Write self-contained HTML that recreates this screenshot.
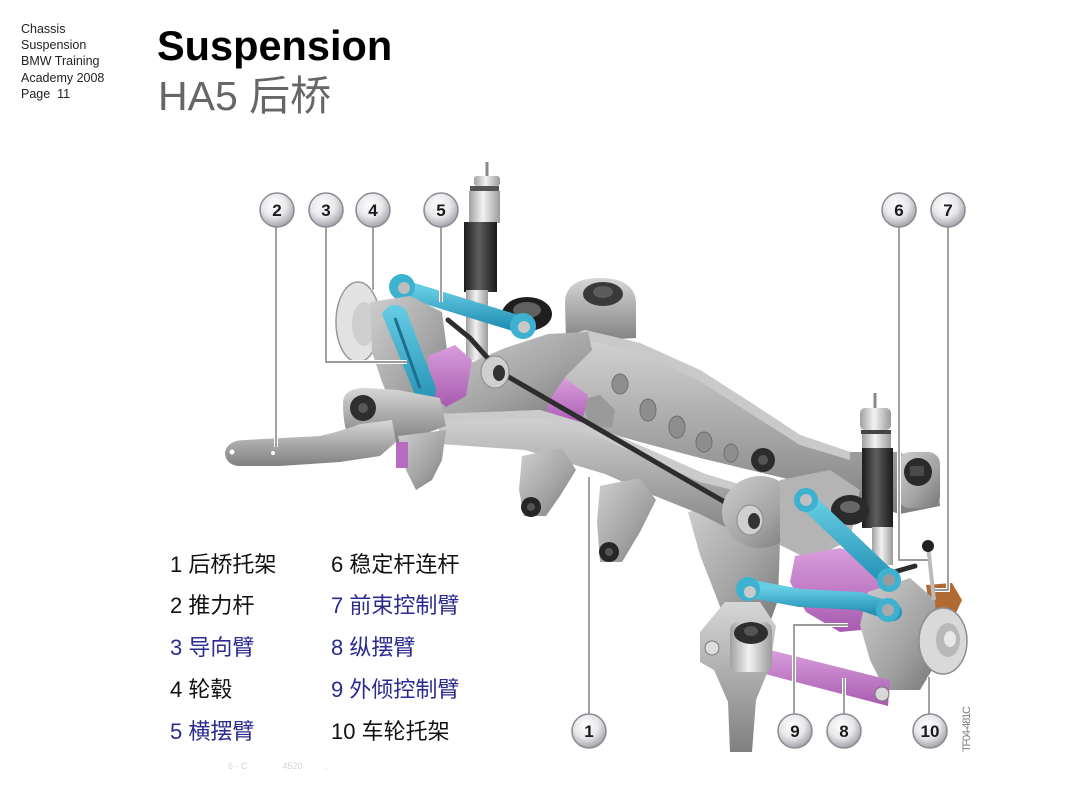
<!DOCTYPE html>
<html><head><meta charset="utf-8"><style>
html,body{margin:0;padding:0;background:#fff;}
svg{display:block;}
</style></head><body>
<svg width="1080" height="810" viewBox="0 0 1080 810" xmlns="http://www.w3.org/2000/svg">
<defs>
<linearGradient id="gA" x1="0" y1="0" x2="0" y2="1"><stop offset="0" stop-color="#d6d6d6"/><stop offset="0.5" stop-color="#ababab"/><stop offset="1" stop-color="#808080"/></linearGradient>
<linearGradient id="gB" x1="0" y1="0" x2="1" y2="1"><stop offset="0" stop-color="#cfcfcf"/><stop offset="0.6" stop-color="#a2a2a2"/><stop offset="1" stop-color="#767676"/></linearGradient>
<linearGradient id="gBlk" x1="0" y1="0" x2="1" y2="0"><stop offset="0" stop-color="#1c1c1c"/><stop offset="0.45" stop-color="#5e5e5e"/><stop offset="1" stop-color="#1a1a1a"/></linearGradient>
<linearGradient id="gSil" x1="0" y1="0" x2="1" y2="0"><stop offset="0" stop-color="#a0a0a0"/><stop offset="0.45" stop-color="#f2f2f2"/><stop offset="1" stop-color="#9a9a9a"/></linearGradient>
<linearGradient id="gBlue" x1="0" y1="0" x2="0" y2="1"><stop offset="0" stop-color="#66cde4"/><stop offset="1" stop-color="#2692b6"/></linearGradient>
<linearGradient id="gPink" x1="0" y1="0" x2="0" y2="1"><stop offset="0" stop-color="#d99ddc"/><stop offset="1" stop-color="#a85bb0"/></linearGradient>
<radialGradient id="gBub" cx="0.42" cy="0.35" r="0.65"><stop offset="0" stop-color="#ffffff"/><stop offset="0.55" stop-color="#e8e8ec"/><stop offset="1" stop-color="#a4a4aa"/></radialGradient>
</defs>

<!-- header -->
<g font-family="Liberation Sans, sans-serif" font-size="12.5" fill="#222">
<text x="21" y="33">Chassis</text>
<text x="21" y="49">Suspension</text>
<text x="21" y="65">BMW Training</text>
<text x="21" y="82">Academy 2008</text>
<text x="21" y="98">Page&#160; 11</text>
</g>
<text x="157" y="60" font-family="Liberation Sans, sans-serif" font-weight="bold" font-size="41.5" fill="#000">Suspension</text>
<text x="158" y="110" font-family="Liberation Sans, 'Noto Sans CJK SC', sans-serif" font-size="41" fill="#666">HA5 后桥</text>

<!-- ===== drawing ===== -->
<path d="M565,302 Q566,278 600,278 Q634,278 636,302 L636,338 L566,342 Z" fill="url(#gA)"/>
<ellipse cx="603" cy="294" rx="20" ry="12" fill="#3a3a3a"/>
<ellipse cx="603" cy="292" rx="10" ry="6" fill="#5c5c5c"/>
<ellipse cx="527" cy="314" rx="25" ry="17" fill="#1e1e1e"/>
<ellipse cx="527" cy="310" rx="14" ry="8" fill="#606060"/>

<path d="M548,342 L585,330 L640,343 L700,370 L750,402 L800,435 L850,452 L898,452 L936,466 L940,506 L900,514 L850,500 L800,482 L750,470 L700,458 L640,442 L598,430 L560,420 Z" fill="url(#gA)"/>
<path d="M585,330 L640,343 L700,370 L750,402 L800,435 L850,452 L850,460 L800,445 L748,412 L698,380 L638,352 L585,340 Z" fill="#c9c9c9"/>
<g fill="#8e8e8e" stroke="#6e6e6e" stroke-width="1">
<ellipse cx="620" cy="384" rx="8" ry="10"/>
<ellipse cx="648" cy="410" rx="8" ry="11"/>
<ellipse cx="677" cy="427" rx="8" ry="11"/>
<ellipse cx="704" cy="442" rx="8" ry="10"/>
<ellipse cx="731" cy="453" rx="7" ry="9"/>
</g>
<path d="M580,400 L600,395 L615,410 L612,428 L590,425 Z" fill="#9a9a9a"/>
<circle cx="763" cy="460" r="12" fill="#2c2c2c"/>
<circle cx="763" cy="460" r="5" fill="#555"/>
<rect x="898" y="452" width="42" height="56" rx="12" fill="url(#gB)"/>
<ellipse cx="918" cy="472" rx="14" ry="14" fill="#2a2a2a"/>
<rect x="910" y="466" width="14" height="10" fill="#4a4a4a"/>

<line x1="487" y1="162" x2="487" y2="180" stroke="#888" stroke-width="3"/>
<rect x="474" y="176" width="26" height="10" rx="3" fill="url(#gSil)"/>
<rect x="470" y="186" width="29" height="5" fill="#555"/>
<rect x="469" y="191" width="31" height="32" fill="url(#gSil)"/>
<rect x="464" y="222" width="33" height="70" fill="url(#gBlk)"/>
<rect x="466" y="290" width="22" height="70" fill="url(#gSil)"/>

<line x1="402" y1="288" x2="522" y2="325" stroke="url(#gBlue)" stroke-width="17" stroke-linecap="round"/>
<circle cx="402" cy="287" r="13" fill="#3cb2d0"/>
<circle cx="404" cy="288" r="6" fill="#bdbdbd"/>
<circle cx="523" cy="326" r="13" fill="#3cb2d0"/>
<circle cx="524" cy="327" r="6" fill="#c8c8c8"/>

<path d="M538,392 L565,378 L588,395 L582,422 L545,426 Z" fill="url(#gPink)"/>

<path d="M432,400 L468,364 L505,348 L548,334 L588,332 L592,350 L566,376 L548,402 L546,416 L438,418 Z" fill="url(#gB)"/>

<path d="M688,512 L745,500 L780,540 L778,600 L768,628 L728,628 L716,596 L700,555 Z" fill="url(#gB)"/>

<path d="M438,414 L540,410 L600,428 L655,452 L705,474 L745,486 L775,500 L770,540 L735,532 L700,514 L650,494 L605,474 L525,450 L440,444 Z" fill="url(#gA)"/>
<path d="M438,414 L540,410 L600,428 L655,452 L705,474 L745,486 L745,493 L700,482 L650,460 L598,437 L540,418 L440,422 Z" fill="#cbcbcb"/>

<path d="M522,456 L562,448 L576,470 L560,496 L546,516 L524,516 L519,490 Z" fill="url(#gB)"/>
<circle cx="531" cy="507" r="10" fill="#262626"/>
<circle cx="531" cy="507" r="4" fill="#555"/>
<path d="M600,486 L640,478 L656,500 L640,532 L622,562 L600,562 L597,522 Z" fill="url(#gB)"/>
<circle cx="609" cy="552" r="10" fill="#262626"/>
<circle cx="609" cy="552" r="4" fill="#555"/>

<ellipse cx="358" cy="322" rx="22" ry="40" fill="#e2e2e2" stroke="#9a9a9a" stroke-width="1.5"/>
<ellipse cx="364" cy="324" rx="12" ry="22" fill="#cfcfcf"/>
<path d="M370,302 L410,296 L442,312 L447,350 L432,380 L444,402 L420,422 L396,416 L382,382 L372,352 Z" fill="url(#gB)"/>
<path d="M428,356 L455,345 L472,360 L466,396 L446,407 L430,392 Z" fill="url(#gPink)"/>

<path d="M382,314 Q392,298 406,310 L436,388 Q436,408 418,402 Z" fill="url(#gBlue)"/>
<path d="M395,318 L420,388" stroke="#1f6f8c" stroke-width="3"/>

<path d="M343,402 Q344,388 366,388 L398,390 L440,398 L446,426 L402,442 L352,442 Q343,432 343,402 Z" fill="url(#gA)"/>
<circle cx="363" cy="408" r="13" fill="#2e2e2e"/>
<circle cx="363" cy="408" r="5" fill="#585858"/>

<path d="M225,452 Q228,440 245,440 L320,436 Q345,430 360,424 L392,420 L396,442 L380,456 L340,462 L280,466 L238,466 Q225,464 225,452 Z" fill="url(#gA)"/>
<circle cx="232" cy="452" r="2.5" fill="#fff"/>
<circle cx="273" cy="453" r="2" fill="#fff"/>
<path d="M398,436 L446,430 L442,460 L432,480 L416,490 L406,470 Z" fill="url(#gB)"/>
<rect x="396" y="442" width="12" height="26" fill="#b86cc0"/>

<path d="M448,320 L470,338 L500,372 L780,534 L822,556 L880,576 L915,566" fill="none" stroke="#2d2d2d" stroke-width="5" stroke-linecap="round"/>
<ellipse cx="495" cy="372" rx="14" ry="16" fill="#cfcfcf" stroke="#888"/>
<ellipse cx="499" cy="373" rx="6" ry="8" fill="#333"/>

<ellipse cx="760" cy="512" rx="38" ry="36" fill="url(#gB)"/>
<path d="M780,480 L830,470 L860,490 L850,540 L810,560 L780,545 Z" fill="#b4b4b4"/>
<ellipse cx="750" cy="520" rx="13" ry="15" fill="#cfcfcf" stroke="#888"/>
<ellipse cx="754" cy="521" rx="6" ry="8" fill="#333"/>

<line x1="875" y1="393" x2="875" y2="410" stroke="#888" stroke-width="3"/>
<rect x="860" y="408" width="31" height="22" rx="5" fill="url(#gSil)"/>
<rect x="861" y="430" width="30" height="4" fill="#444"/>
<rect x="862" y="434" width="29" height="15" fill="url(#gSil)"/>
<rect x="862" y="448" width="31" height="80" fill="url(#gBlk)"/>
<rect x="872" y="527" width="21" height="38" fill="url(#gSil)"/>
<ellipse cx="850" cy="510" rx="19" ry="15" fill="#2a2a2a"/>
<ellipse cx="850" cy="507" rx="10" ry="6" fill="#666"/>
<g fill="none" stroke="#c8c8c8" stroke-width="4">
<ellipse cx="845" cy="578" rx="28" ry="8"/>
<ellipse cx="845" cy="592" rx="28" ry="8"/>
</g>
<path d="M926,585 L952,583 L962,600 L955,615 L930,612 Z" fill="#b06a32"/>

<path d="M795,556 L840,548 L880,560 L895,600 L882,628 L840,632 L806,612 L790,582 Z" fill="url(#gPink)"/>

<path d="M868,592 L910,578 L935,600 L938,660 L920,690 L885,690 L870,660 L860,625 Z" fill="url(#gB)"/>
<ellipse cx="943" cy="641" rx="24" ry="33" fill="#d9d9d9" stroke="#8e8e8e" stroke-width="1.5"/>
<ellipse cx="948" cy="640" rx="12" ry="17" fill="#b8b8b8"/>
<ellipse cx="950" cy="639" rx="6" ry="8" fill="#e8e8e8"/>

<line x1="806" y1="500" x2="890" y2="580" stroke="url(#gBlue)" stroke-width="18" stroke-linecap="round"/>
<circle cx="806" cy="500" r="12" fill="#3cb2d0"/>
<circle cx="806" cy="500" r="6" fill="#c0c0c0"/>
<circle cx="889" cy="580" r="12" fill="#3cb2d0"/>
<circle cx="889" cy="580" r="6" fill="#9a9a9a"/>
<path d="M746,588 L800,598 L860,601 L893,612" fill="none" stroke="url(#gBlue)" stroke-width="18" stroke-linecap="round"/>
<circle cx="748" cy="589" r="12" fill="#3cb2d0"/>
<circle cx="750" cy="592" r="6" fill="#c8c8c8"/>
<circle cx="888" cy="610" r="12" fill="#3cb2d0"/>
<circle cx="888" cy="610" r="6" fill="#aaa"/>

<path d="M770,650 L890,680 L888,706 L765,674 Z" fill="url(#gPink)"/>
<circle cx="882" cy="694" r="7" fill="#d8d8d8" stroke="#777"/>

<path d="M700,632 L725,602 L760,602 L776,626 L770,666 L756,700 L752,752 L730,752 L728,702 L714,670 L700,662 Z" fill="url(#gA)"/>
<circle cx="712" cy="648" r="7" fill="#ddd" stroke="#777"/>
<rect x="730" y="622" width="42" height="50" rx="8" fill="url(#gSil)"/>
<ellipse cx="751" cy="633" rx="17" ry="11" fill="#2e2e2e"/>
<ellipse cx="751" cy="631" rx="7" ry="5" fill="#555"/>

<line x1="928" y1="546" x2="934" y2="600" stroke="#bbb" stroke-width="4"/>
<circle cx="928" cy="546" r="6" fill="#222"/>

<g fill="none" stroke="#ffffff" stroke-width="4">
<path d="M276,226 V447"/><path d="M326,226 V362 H407"/><path d="M373,226 V290"/><path d="M441,226 V302"/>
<path d="M899,226 V560 H928"/><path d="M948,226 V590 H935"/>
<path d="M589,714 V477"/><path d="M794,714 V625 H848"/><path d="M844,714 V678"/><path d="M929,714 V677"/>
</g>
<g fill="none" stroke="#7a7a7a" stroke-width="1.4">
<path d="M276,226 V447"/><path d="M326,226 V362 H407"/><path d="M373,226 V290"/><path d="M441,226 V302"/>
<path d="M899,226 V560 H928"/><path d="M948,226 V590 H935"/>
<path d="M589,714 V477"/><path d="M794,714 V625 H848"/><path d="M844,714 V678"/><path d="M929,714 V677"/>
</g>

<g stroke="#8a8a90" stroke-width="1.5" fill="url(#gBub)">
<circle cx="277" cy="210" r="17"/><circle cx="326" cy="210" r="17"/><circle cx="373" cy="210" r="17"/><circle cx="441" cy="210" r="17"/>
<circle cx="899" cy="210" r="17"/><circle cx="948" cy="210" r="17"/>
<circle cx="589" cy="731" r="17"/><circle cx="795" cy="731" r="17"/><circle cx="844" cy="731" r="17"/><circle cx="930" cy="731" r="17"/>
</g>
<g font-family="Liberation Sans, sans-serif" font-weight="bold" font-size="17" fill="#1a1a1a" text-anchor="middle">
<text x="277" y="216">2</text><text x="326" y="216">3</text><text x="373" y="216">4</text><text x="441" y="216">5</text>
<text x="899" y="216">6</text><text x="948" y="216">7</text>
<text x="589" y="737">1</text><text x="795" y="737">9</text><text x="844" y="737">8</text><text x="930" y="737">10</text>
</g>

<text x="970" y="752" transform="rotate(-90 970 752)" font-family="Liberation Sans, sans-serif" font-size="11" fill="#808080" textLength="46">TF04-481C</text>

<g font-family="Liberation Sans, 'Noto Sans CJK SC', sans-serif" font-size="22">
<text x="170" y="572" fill="#111">1 后桥托架</text>
<text x="170" y="613" fill="#111">2 推力杆</text>
<text x="170" y="655" fill="#2b2b8f">3 导向臂</text>
<text x="170" y="697" fill="#111">4 轮毂</text>
<text x="170" y="739" fill="#2b2b8f">5 横摆臂</text>
<text x="331" y="572" fill="#111">6 稳定杆连杆</text>
<text x="331" y="613" fill="#2b2b8f">7 前束控制臂</text>
<text x="331" y="655" fill="#2b2b8f">8 纵摆臂</text>
<text x="331" y="697" fill="#2b2b8f">9 外倾控制臂</text>
<text x="331" y="739" fill="#111">10 车轮托架</text>
</g>
<text x="228" y="769" font-family="Liberation Sans, sans-serif" font-size="9" fill="#d4d4d4">6 - C&#160;&#160;&#160;&#160;&#160;&#160;&#160;&#160;&#160;&#160;&#160;&#160;&#160; 4520&#160;&#160;&#160;&#160;&#160;&#160;&#160;&#160; .</text>
</svg>
</body></html>
